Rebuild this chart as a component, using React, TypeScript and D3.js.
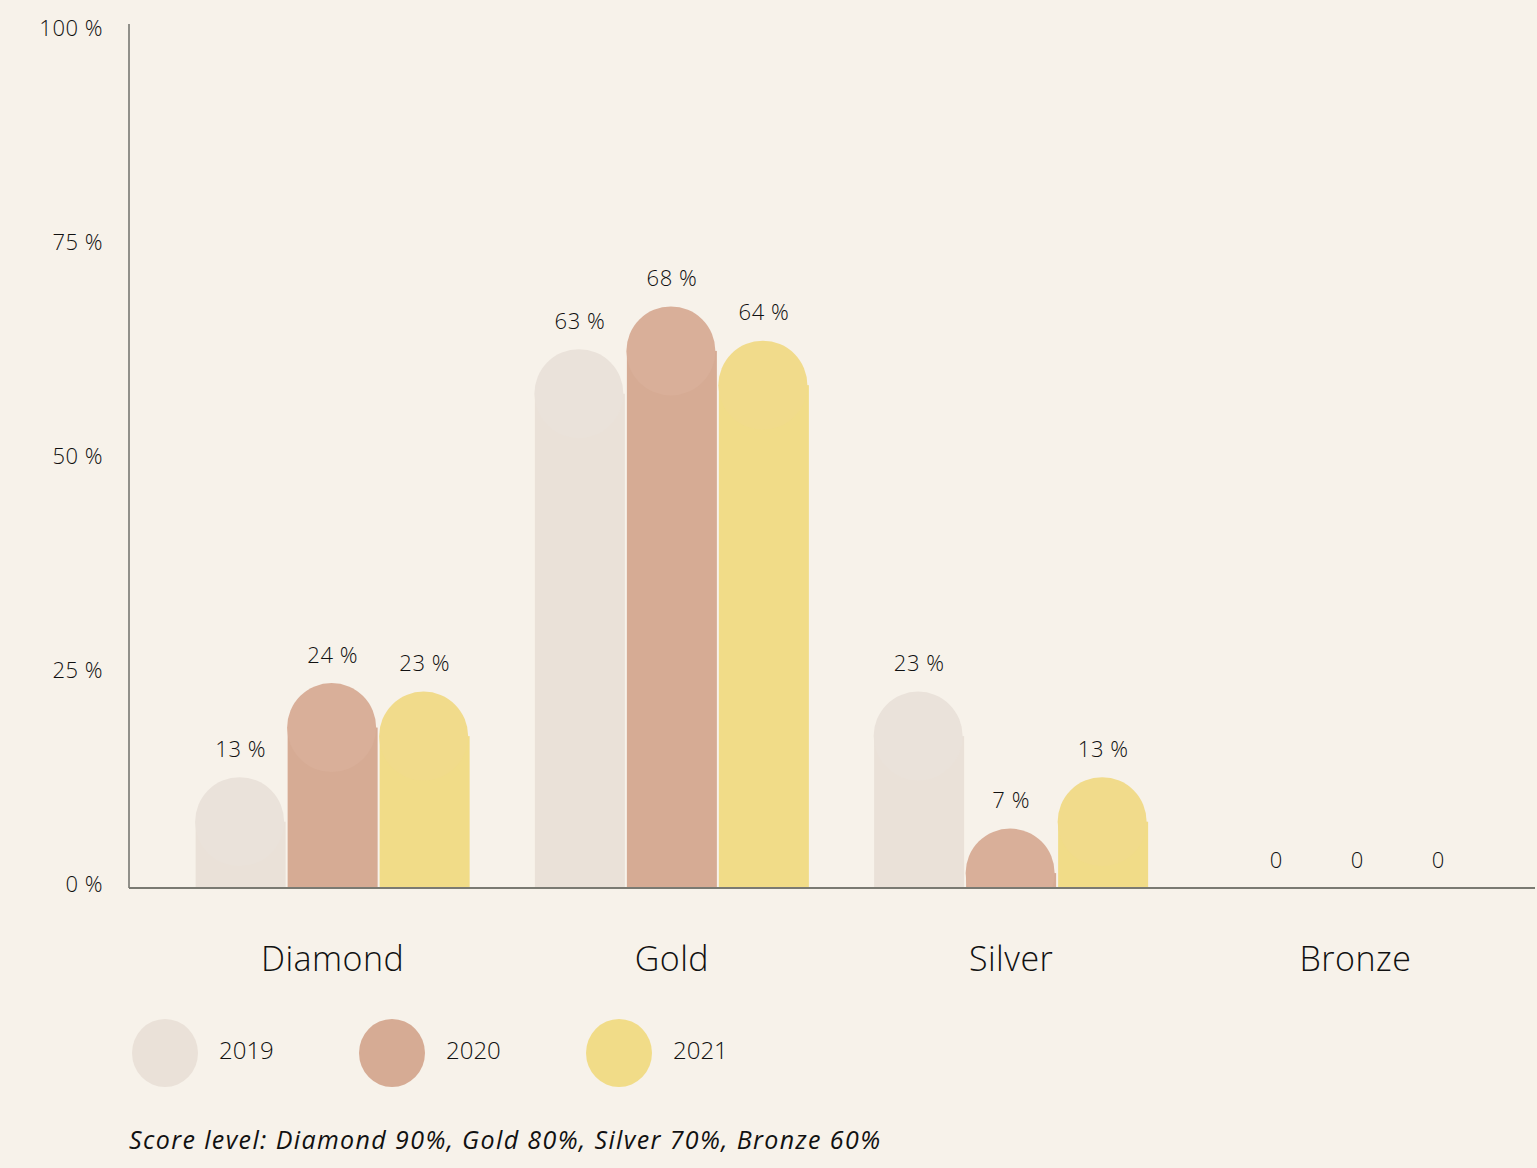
import React, { useEffect } from "react";
import * as d3 from "d3";

const categories = ["Diamond", "Gold", "Silver", "Bronze"];
const years = ["2019", "2020", "2021"];
const values2019 = [13, 63, 23, 0];
const values2020 = [24, 68, 7, 0];
const values2021 = [23, 64, 13, 0];
const yTicks = [0, 25, 50, 75, 100];
const colors = ["#EAE1D8", "#D6AB94", "#F1DC88"];
const capColors = ["#EAE2DA", "#D9AF99", "#F1DB8B"];
const footnote = "Score level: Diamond 90%, Gold 80%, Silver 70%, Bronze 60%";

const W = 1537;
const H = 1168;
const FONT = "'Open Sans', Lato, sans-serif";

export default function App() {
  useEffect(() => {
    document.body.style.margin = "0";
    document.body.style.background = "#F7F2EA";
  }, []);

  const series = [values2019, values2020, values2021];
  const left = 129;
  const right = 1535;
  const y = d3.scaleLinear().domain([0, 100]).range([888, 32]);
  const x = d3.scaleBand().domain(categories).range([163, 1520]).paddingInner(0).paddingOuter(0);
  const barW = 90;
  const gap = 2;
  const sub = d3.scaleBand().domain(years).range([0, barW * 3 + gap * 2]).paddingInner(gap / (barW + gap));
  const groupW = barW * 3 + gap * 2;

  const bars: any[] = [];
  categories.forEach((c, ci) => {
    const cx = (x(c) as number) + x.bandwidth() / 2;
    const gx = cx - groupW / 2;
    years.forEach((yr, si) => {
      const v = series[si][ci];
      const bx = gx + (sub(yr) as number);
      bars.push({ c, ci, yr, si, v, bx, cx, center: bx + sub.bandwidth() / 2 });
    });
  });

  const r = sub.bandwidth() / 2;

  return (
    <svg width={W} height={H} style={{ display: "block", background: "#F7F2EA" }} fontFamily={FONT} fontWeight={300}>
      <defs>
        <clipPath id="plot">
          <rect x={left} y={0} width={right - left} height={y(0)} />
        </clipPath>
      </defs>
      <rect x={0} y={0} width={W} height={H} fill="#F7F2EA" />
      {yTicks.map((t) => (
        <text key={t} x={103} y={y(t) - 5} textAnchor="end" dominantBaseline="central" fontSize={22} fill="#111" letterSpacing={0.5}>
          {`${t} %`}
        </text>
      ))}
      <g clipPath="url(#plot)">
        {bars.filter((b) => b.v > 0).map((b) => {
          const top = y(b.v);
          const ccy = top + r;
          return (
            <g key={b.c + b.yr}>
              <rect x={b.bx} y={Math.min(ccy, y(0))} width={sub.bandwidth()} height={Math.max(0, y(0) - ccy)} fill={colors[b.si]} />
              <circle cx={b.center - 1} cy={ccy} r={r - 0.5} fill={capColors[b.si]} />
            </g>
          );
        })}
      </g>
      {bars.map((b) => {
        const lx = b.v === 0 ? b.cx + 7 + (b.si - 1) * 81 : b.center;
        return (
          <text key={"l" + b.c + b.yr} x={lx} y={y(b.v) - 29} textAnchor="middle" dominantBaseline="central" fontSize={22} fill="#111" letterSpacing={0.5}>
            {b.v === 0 ? "0" : `${b.v} %`}
          </text>
        );
      })}
      <line x1={left} x2={left} y1={24} y2={y(0)} stroke="#6f6f6a" strokeWidth={1.5} />
      <line x1={left} x2={right} y1={y(0)} y2={y(0)} stroke="#7a7a72" strokeWidth={2} />
      {categories.map((c) => (
        <text key={c} x={(x(c) as number) + x.bandwidth() / 2 + (c === "Bronze" ? 5 : 0)} y={958} textAnchor="middle" dominantBaseline="central" fontSize={34} fill="#111" letterSpacing={0.5}>
          {c}
        </text>
      ))}
      {years.map((yr, i) => (
        <g key={yr} transform={`translate(${131 + i * 227},0)`}>
          <ellipse cx={34} cy={1053} rx={33} ry={34} fill={colors[i]} />
          <text x={88} y={1049} dominantBaseline="central" fontSize={24} fill="#111">
            {yr}
          </text>
        </g>
      ))}
      <text x={129} y={1139} dominantBaseline="central" fontSize={25} fontStyle="italic" fontWeight={400} fill="#111" textLength={751} lengthAdjust="spacing">
        {footnote}
      </text>
    </svg>
  );
}
